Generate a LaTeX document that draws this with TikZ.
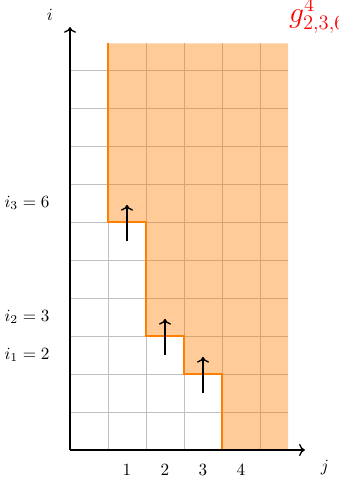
\documentclass[tikz,border=0pt]{standalone}
\usepackage{tikz}
\usepackage{xcolor}
\usetikzlibrary{arrows.meta, positioning}
\definecolor{stair-orange}{RGB}{255,128,0}

\begin{document}
\begin{tikzpicture}[scale=0.78]
  \useasboundingbox (-1.842,-0.921) rectangle (7.053,11.842);

  % Grid and shaded region
  \draw[gray!50, thin] (0,0) grid (5.74,10.7);
  \fill[stair-orange, opacity=0.4] (4,0) -- (4,2) -- (3,2) -- (3,3) -- (2,3) -- (2,6) -- (1,6) -- (1,10.7)
    -- (5.74,10.7) -- (5.74,0) -- cycle;
  \draw[stair-orange, line width=1.5pt] (4,0) -- (4,2) -- (3,2) -- (3,3) -- (2,3) -- (2,6) -- (1,6) -- (1,10.7);

  % Axes
  \coordinate (origin) at (0,0);
  \coordinate (xend) at (6.18,0);
  \coordinate (yend) at (0,11.13);
  \draw[thick, ->] (origin) -- (xend);
  \draw[thick, ->] (origin) -- (yend);
  \node (jlabel) at (6.71,-0.47) {$j$};
  \node (ilabel) at (-0.53,11.45) {$i$};

  % Tick labels
  \foreach \j in {1,...,4}
    \node (tick\j) at (\j+0.5,-0.53) {\j};

  % Row labels
  \node[anchor=east] (lab3) at (-0.38,6.5) {$i_3 = 6$};
  \node[anchor=east] (lab2) at (-0.38,3.5) {$i_2 = 3$};
  \node[anchor=east] (lab1) at (-0.38,2.5) {$i_1 = 2$};

  % Steps
  \foreach \j/\i in {1/6, 2/3, 3/2} {
    \coordinate (up\j a) at (\j+0.5,\i-0.5);
    \coordinate (up\j b) at (\j+0.5,\i+0.45);
    \draw[thick, ->] (up\j a) -- (up\j b);
  }

  % Title
  \node[anchor=base west, text=red, font=\LARGE, inner sep=0pt] (title) at (5.76,11.26) {$g^4_{2,3,6}$};
\end{tikzpicture}
\end{document}
